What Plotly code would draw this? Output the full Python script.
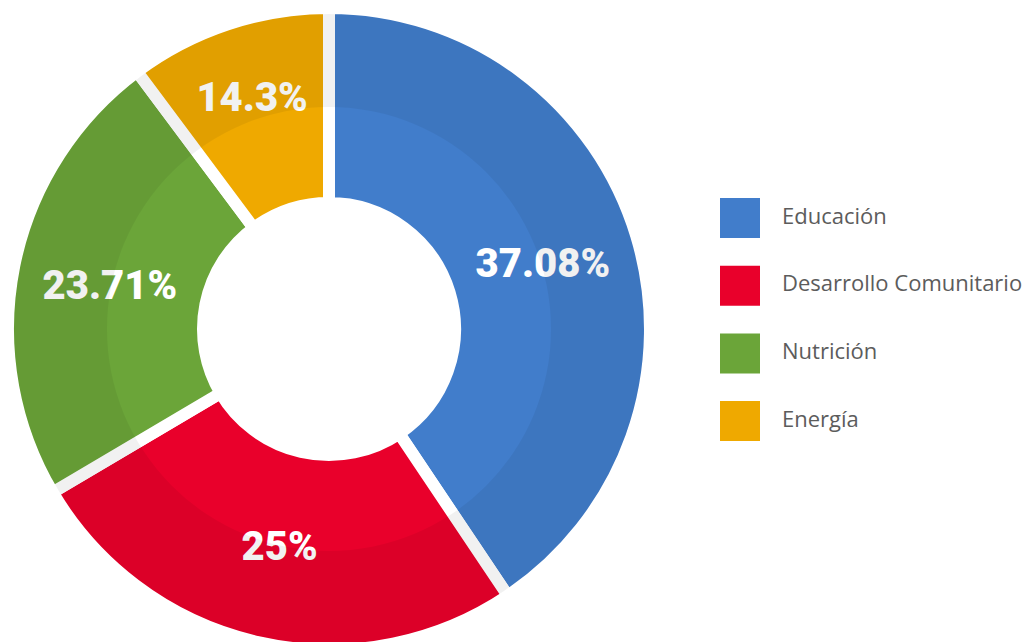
import plotly.graph_objects as go

# Data
categories = ["Educación", "Desarrollo Comunitario", "Nutrición", "Energía"]
slice_share = [40.6, 25.9, 23.3, 10.2]               # angular share of each slice as drawn
slice_labels = ["37.08%", "25%", "23.71%", "14.3%"]  # labels printed on the slices
colors = ["#417dcb", "#e9002b", "#6ba539", "#efa900"]
legend_pos = [0, 1, 2, 3]

W, H = 1030, 642
D = 642                   # pie domain size (px)
R = D / 2                 # pie radius
cx = cy = D / 2           # pie center in figure px (from top-left)
gap = 12                  # white separator width
vis_R = R - gap / 2

fig = go.Figure()

fig.add_trace(go.Pie(
    values=slice_share,
    labels=categories,
    text=slice_labels,
    textinfo="text",
    textposition="inside",
    insidetextorientation="horizontal",
    insidetextfont=dict(color="white", size=40, family="Roboto", weight=900),
    marker=dict(colors=colors, line=dict(color="white", width=gap)),
    hole=(132 - gap / 2) / R,
    sort=False,
    direction="clockwise",
    rotation=0,
    domain=dict(x=[0, D / W], y=[1 - D / H, 1]),
    showlegend=False,
    hoverinfo="label+text",
))

# darker outer band overlay
fig.add_trace(go.Pie(
    values=[1],
    labels=[" "],
    textinfo="none",
    marker=dict(colors=["rgba(0,0,0,0.055)"], line=dict(width=0)),
    hole=222 / vis_R,
    sort=False,
    domain=dict(x=[(cx - vis_R) / W, (cx + vis_R) / W],
                y=[(H - cy - vis_R) / H, (H - cy + vis_R) / H]),
    showlegend=False,
    hoverinfo="skip",
))

# legend drawn as scatter on hidden axes
fig.add_trace(go.Scatter(
    x=[40] * len(categories), y=legend_pos,
    mode="markers",
    marker=dict(symbol="square", size=40, color=colors, line=dict(width=0)),
    xaxis="x", yaxis="y", showlegend=False, hoverinfo="skip",
))
fig.add_trace(go.Scatter(
    x=[82] * len(categories), y=legend_pos,
    mode="text", text=categories, textposition="middle right",
    textfont=dict(color="#5c5c5c", size=22, family="Open Sans"),
    xaxis="x", yaxis="y", showlegend=False, hoverinfo="skip",
))

step = 67.7
y0 = 210
fig.update_layout(
    width=W, height=H,
    margin=dict(l=0, r=0, t=0, b=0),
    paper_bgcolor="white", plot_bgcolor="rgba(0,0,0,0)",
    xaxis=dict(domain=[692 / W, 1], range=[0, W - 692], visible=False, fixedrange=True),
    yaxis=dict(domain=[0, 1], range=[(H - y0) / step, -y0 / step], visible=False, fixedrange=True),
)

fig.write_html("out.html")
